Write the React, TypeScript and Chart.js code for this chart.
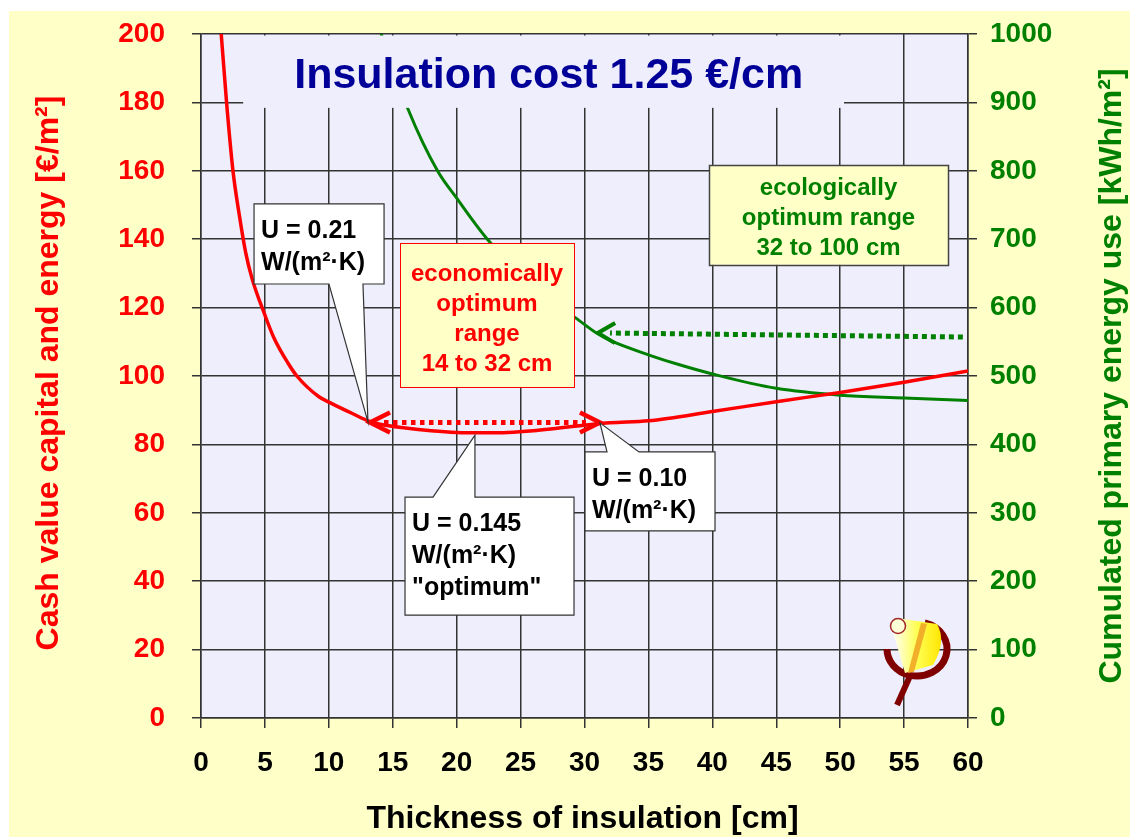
import React, { useEffect, useRef } from "react";
import { Chart, registerables } from "chart.js";

Chart.register(...registerables);

// ---- data ----
const thicknessCost = [1.5, 2, 2.5, 3, 3.5, 4, 5, 5.7, 6.8, 7.5, 9.2, 10.2, 11.8, 13.2, 14, 16, 18, 20, 22, 24, 26, 28, 30, 32, 35, 40, 45, 50, 55, 60];
const cashValue = [204, 180, 160, 147, 136, 128.4, 117.8, 111.2, 103.8, 100, 94, 92, 89.1, 86.7, 85.9, 84.8, 84.0, 83.5, 83.4, 83.5, 84.0, 84.8, 85.6, 86.3, 86.9, 89.6, 92.5, 95.2, 98.2, 101.5];
const thicknessEnergy = [14, 15, 16.2, 18.5, 20, 22.4, 25, 27, 29.3, 31, 32, 35, 37.5, 40, 45, 50, 55, 60];
const primaryEnergy = [1005, 953, 890, 800, 760, 700, 650, 615, 585, 562, 552, 531, 516, 503, 482, 472, 468, 464];

const xTicks = { min: 0, max: 60, step: 5 };
const yLeftTicks = { min: 0, max: 200, step: 20 };
const yRightTicks = { min: 0, max: 1000, step: 100 };

// ---- texts & annotations (in data units) ----
const titleText = "Insulation cost 1.25 €/cm";
const titleAnchor = [27.2, 184.2];
const titleCover = [3.3, 50.3, 178.4];
const econLines = ["economically", "optimum", "range", "14 to 32 cm"];
const econBox = [15.57, 29.18, 138.9, 96.8];
const ecoLines = ["ecologically", "optimum range", "32 to 100 cm"];
const ecoBox = [39.74, 58.44, 161.7, 132.5];
const callouts = [
  { lines: ["U = 0.21", "W/(m²·K)"], box: [4.15, 14.32, 150.3, 126.9], base: [10.01, 12.67], tip: [13.06, 86.6], side: "bottom" },
  { lines: ["U = 0.145", "W/(m²·K)", "\"optimum\""], box: [15.96, 29.18, 64.6, 30.1], base: [18.15, 21.43], tip: [21.43, 82.7], side: "top" },
  { lines: ["U = 0.10", "W/(m²·K)"], box: [30.04, 40.21, 77.8, 54.7], base: [31.76, 34.26], tip: [31.21, 86.3], side: "top" },
];
const econRange = [13.22, 31.21, 86.4];
const ecoArrow = [31.06, 563, 59.6, 557];

const xTitle = "Thickness of insulation [cm]";
const yLeftTitle = "Cash value capital and energy [€/m²]";
const yRightTitle = "Cumulated primary energy use [kWh/m²]";

const FONT = '"Liberation Sans", Arial, sans-serif';
const PAGE_BG = "#FFFFC8";
const PLOT_BG = "#EEEEFC";
const GRID = "#333333";
const RED = "#FF0000";
const GREEN = "#008000";

function arrowHead(ctx: CanvasRenderingContext2D, tx: number, ty: number, dx: number, dy: number, len: number, half: number) {
  const l = Math.hypot(dx, dy);
  const ux = dx / l, uy = dy / l;
  const bx = tx - ux * len, by = ty - uy * len;
  const px = -uy, py = ux;
  ctx.beginPath();
  ctx.moveTo(bx + px * half, by + py * half);
  ctx.lineTo(tx, ty);
  ctx.lineTo(bx - px * half, by - py * half);
  ctx.stroke();
}

function drawLogo(ctx: CanvasRenderingContext2D, cx: number, cy: number) {
  ctx.save();
  ctx.strokeStyle = "#800000";
  ctx.lineWidth = 7;
  ctx.beginPath();
  ctx.ellipse(cx, cy, 30, 27, 0, -1.31, Math.PI, false);
  ctx.stroke();
  ctx.lineWidth = 6;
  ctx.beginPath();
  ctx.moveTo(cx - 7, cy + 27);
  ctx.lineTo(cx - 20, cy + 56);
  ctx.stroke();
  const g = ctx.createLinearGradient(cx - 24, 0, cx + 25, 0);
  g.addColorStop(0, "#FFFFF4");
  g.addColorStop(0.5, "#FFFF50");
  g.addColorStop(1, "#FFE400");
  ctx.fillStyle = g;
  ctx.beginPath();
  ctx.moveTo(cx - 24, cy - 17);
  ctx.lineTo(cx - 14, cy - 30);
  ctx.lineTo(cx + 20, cy - 25);
  ctx.quadraticCurveTo(cx + 30, cy - 8, cx + 16, cy + 16);
  ctx.lineTo(cx - 12, cy + 24);
  ctx.closePath();
  ctx.fill();
  ctx.fillStyle = "#F2B02A";
  ctx.beginPath();
  ctx.moveTo(cx + 4, cy - 26);
  ctx.lineTo(cx + 10, cy - 25);
  ctx.lineTo(cx - 3, cy + 23);
  ctx.lineTo(cx - 9, cy + 24);
  ctx.closePath();
  ctx.fill();
  ctx.fillStyle = "#FFFFD8";
  ctx.strokeStyle = "#A02828";
  ctx.lineWidth = 1.5;
  ctx.beginPath();
  ctx.arc(cx - 19, cy - 23, 7.5, 0, Math.PI * 2);
  ctx.fill();
  ctx.stroke();
  ctx.restore();
}

const decorPlugin = {
  id: "decor",
  beforeDraw(chart: any) {
    const { ctx, chartArea: a } = chart;
    ctx.save();
    ctx.fillStyle = PLOT_BG;
    ctx.fillRect(a.left, a.top, a.right - a.left, a.bottom - a.top);
    ctx.restore();
  },
  afterDatasetsDraw(chart: any) {
    const { ctx, chartArea: a, scales } = chart;
    const X = (v: number) => scales.x.getPixelForValue(v);
    const Y = (v: number) => scales.y.getPixelForValue(v);
    const Y2 = (v: number) => scales.y2.getPixelForValue(v);
    ctx.save();

    // title area
    const tl = X(titleCover[0]), tr = X(titleCover[1]), tb = Y(titleCover[2]);
    ctx.fillStyle = PLOT_BG;
    ctx.fillRect(tl, a.top + 1.5, tr - tl, tb - a.top - 1.5);
    ctx.fillStyle = "#000099";
    ctx.font = `bold 43px ${FONT}`;
    ctx.textAlign = "center";
    ctx.textBaseline = "alphabetic";
    ctx.fillText(titleText, X(titleAnchor[0]), Y(titleAnchor[1]));

    // economic range box
    {
      const l = X(econBox[0]), r = X(econBox[1]), t = Y(econBox[2]), b = Y(econBox[3]);
      ctx.fillStyle = PAGE_BG;
      ctx.fillRect(l, t, r - l, b - t);
      ctx.strokeStyle = RED;
      ctx.lineWidth = 1;
      ctx.strokeRect(Math.round(l) + 0.5, Math.round(t) + 0.5, Math.round(r - l), Math.round(b - t));
      ctx.fillStyle = RED;
      ctx.font = `bold 24px ${FONT}`;
      ctx.textAlign = "center";
      econLines.forEach((s, i) => ctx.fillText(s, (l + r) / 2, t + 38 + i * 30));
    }
    // ecological range box
    {
      const l = X(ecoBox[0]), r = X(ecoBox[1]), t = Y(ecoBox[2]), b = Y(ecoBox[3]);
      ctx.fillStyle = PAGE_BG;
      ctx.fillRect(l, t, r - l, b - t);
      ctx.strokeStyle = "#444";
      ctx.lineWidth = 1.5;
      ctx.strokeRect(Math.round(l) + 0.5, Math.round(t) + 0.5, Math.round(r - l), Math.round(b - t));
      ctx.fillStyle = GREEN;
      ctx.font = `bold 24px ${FONT}`;
      ctx.textAlign = "center";
      ecoLines.forEach((s, i) => ctx.fillText(s, (l + r) / 2, t + 30 + i * 30));
    }

    // economic range dotted double arrow
    {
      const x1 = X(econRange[0]), x2 = X(econRange[1]), y = Y(econRange[2]);
      ctx.strokeStyle = RED;
      ctx.lineWidth = 5;
      ctx.setLineDash([4.5, 4.5]);
      ctx.beginPath();
      ctx.moveTo(x1 + 14, y);
      ctx.lineTo(x2 - 14, y);
      ctx.stroke();
      ctx.setLineDash([]);
      ctx.lineWidth = 4.5;
      ctx.lineJoin = "miter";
      arrowHead(ctx, x1, y, -1, 0, 20, 10);
      arrowHead(ctx, x2, y, 1, 0, 20, 10);
    }
    // ecological dotted arrow
    {
      const x1 = X(ecoArrow[0]), y1 = Y2(ecoArrow[1]), x2 = X(ecoArrow[2]), y2 = Y2(ecoArrow[3]);
      ctx.strokeStyle = GREEN;
      ctx.lineWidth = 5;
      ctx.setLineDash([5, 4]);
      ctx.beginPath();
      ctx.moveTo(x2, y2);
      ctx.lineTo(x1 + 12, y1 + (y2 - y1) * 12 / (x2 - x1));
      ctx.stroke();
      ctx.setLineDash([]);
      ctx.lineWidth = 4;
      arrowHead(ctx, x1, y1, x1 - x2, y1 - y2, 17, 10);
    }

    // callouts
    callouts.forEach((c) => {
      const l = X(c.box[0]), r = X(c.box[1]), t = Y(c.box[2]), b = Y(c.box[3]);
      const b1 = X(c.base[0]), b2 = X(c.base[1]);
      const tx = X(c.tip[0]), ty = Y(c.tip[1]);
      ctx.beginPath();
      if (c.side === "bottom") {
        ctx.moveTo(l, t); ctx.lineTo(r, t); ctx.lineTo(r, b); ctx.lineTo(b2, b);
        ctx.lineTo(tx, ty); ctx.lineTo(b1, b); ctx.lineTo(l, b);
      } else {
        ctx.moveTo(l, t); ctx.lineTo(b1, t); ctx.lineTo(tx, ty); ctx.lineTo(b2, t);
        ctx.lineTo(r, t); ctx.lineTo(r, b); ctx.lineTo(l, b);
      }
      ctx.closePath();
      ctx.fillStyle = "#FFFFFF";
      ctx.fill();
      ctx.strokeStyle = "#333";
      ctx.lineWidth = 1.2;
      ctx.stroke();
      ctx.fillStyle = "#000";
      ctx.font = `bold 25px ${FONT}`;
      ctx.textAlign = "left";
      c.lines.forEach((s, i) => ctx.fillText(s, l + 7, t + 34 + i * 32));
    });

    drawLogo(ctx, a.right - 51, a.bottom - 69);
    ctx.restore();
  },
  afterDraw(chart: any) {
    const { ctx, chartArea: a } = chart;
    const cy = (a.top + a.bottom) / 2;
    ctx.save();
    ctx.font = `bold 32px ${FONT}`;
    ctx.textAlign = "center";
    ctx.textBaseline = "alphabetic";
    ctx.fillStyle = "#000";
    ctx.fillText(xTitle, (a.left + a.right) / 2 - 2, a.bottom + 110);

    ctx.save();
    ctx.translate(49, cy - 3);
    ctx.rotate(-Math.PI / 2);
    ctx.fillStyle = RED;
    ctx.fillText(yLeftTitle, 0, 0);
    ctx.restore();

    ctx.save();
    ctx.translate(a.right + 153, cy);
    ctx.rotate(-Math.PI / 2);
    ctx.fillStyle = GREEN;
    ctx.fillText(yRightTitle, 0, 0);
    ctx.restore();
    ctx.restore();
  },
};

export default function App() {
  const ref = useRef<HTMLCanvasElement | null>(null);

  useEffect(() => {
    if (!ref.current) return;
    const tickFont = { family: FONT, size: 28, weight: "bold" as const };
    const fixPad = (s: any) => { s.paddingTop = 0; s.paddingBottom = 0; };
    const chart = new Chart(ref.current, {
      type: "line",
      data: {
        datasets: [
          {
            label: "Cash value",
            data: thicknessCost.map((x, i) => ({ x, y: cashValue[i] })),
            yAxisID: "y",
            borderColor: RED,
            borderWidth: 3.5,
            pointRadius: 0,
            cubicInterpolationMode: "monotone",
            fill: false,
          },
          {
            label: "Primary energy",
            data: thicknessEnergy.map((x, i) => ({ x, y: primaryEnergy[i] })),
            yAxisID: "y2",
            borderColor: GREEN,
            borderWidth: 3,
            pointRadius: 0,
            cubicInterpolationMode: "monotone",
            fill: false,
          },
        ],
      },
      options: {
        animation: false,
        responsive: false,
        devicePixelRatio: 1,
        layout: { padding: { top: 23, left: 0, right: 0, bottom: 0 } },
        plugins: { legend: { display: false }, tooltip: { enabled: false } },
        scales: {
          x: {
            type: "linear",
            min: xTicks.min,
            max: xTicks.max,
            ticks: {
              stepSize: xTicks.step,
              color: "#000",
              font: tickFont,
              padding: 18,
              maxRotation: 0,
              autoSkip: false,
              callback: (v: any) => String(v),
            },
            grid: { color: GRID, lineWidth: 1.5, tickLength: 10 },
            border: { color: GRID, width: 1.5 },
            afterFit: (s: any) => { s.height = 119; s.paddingLeft = 0; s.paddingRight = 0; },
          },
          y: {
            type: "linear",
            position: "left",
            min: yLeftTicks.min,
            max: yLeftTicks.max,
            ticks: {
              stepSize: yLeftTicks.step,
              color: RED,
              font: tickFont,
              padding: 27,
              callback: (v: any) => String(v),
            },
            grid: { color: GRID, lineWidth: 1.5, tickLength: 9 },
            border: { color: GRID, width: 1.5 },
            afterFit: (s: any) => { s.width = 192; fixPad(s); },
          },
          y2: {
            type: "linear",
            position: "right",
            min: yRightTicks.min,
            max: yRightTicks.max,
            ticks: {
              stepSize: yRightTicks.step,
              color: GREEN,
              font: tickFont,
              padding: 13,
              callback: (v: any) => String(v),
            },
            grid: { drawOnChartArea: false, color: GRID, lineWidth: 1.5, tickLength: 9 },
            border: { color: GRID, width: 1.5 },
            afterFit: (s: any) => { s.width = 162; fixPad(s); },
          },
        },
      },
      plugins: [decorPlugin],
    } as any);
    return () => chart.destroy();
  }, []);

  return (
    <div
      style={{
        position: "absolute",
        left: 9,
        top: 11,
        width: 1121,
        height: 826,
        background: PAGE_BG,
      }}
    >
      <canvas ref={ref} width={1121} height={826} style={{ display: "block" }} />
    </div>
  );
}
